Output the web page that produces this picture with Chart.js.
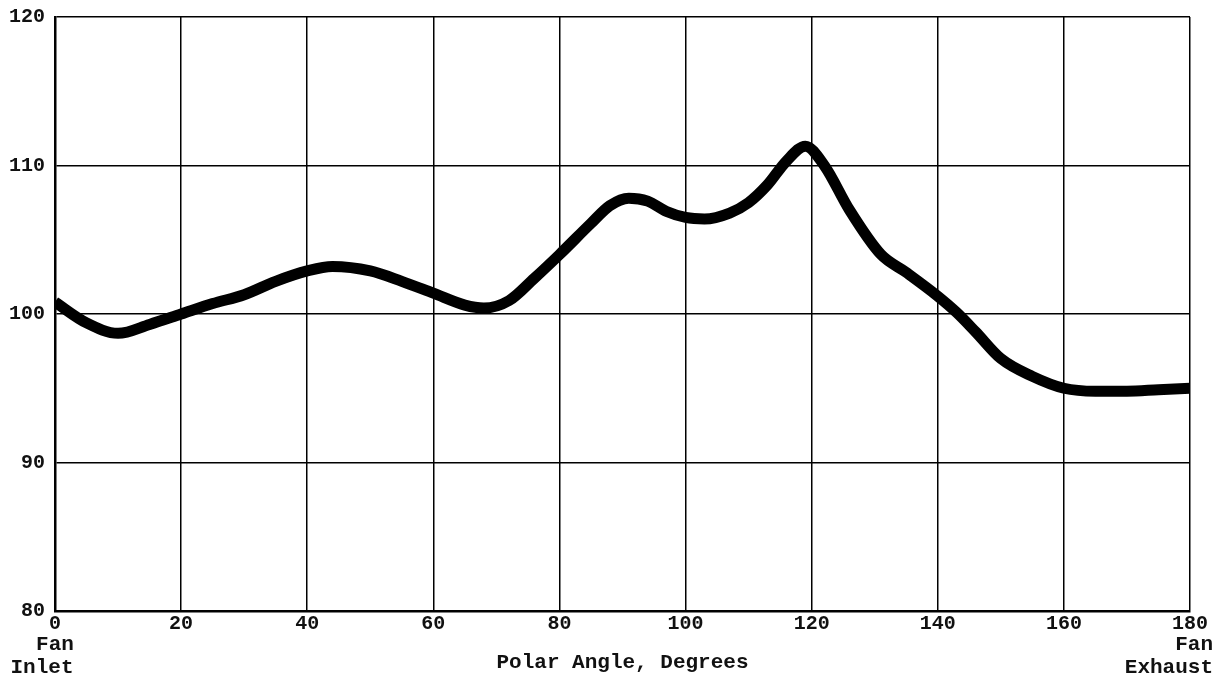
<!DOCTYPE html>
<html>
<head>
<meta charset="utf-8">
<script src="https://cdn.jsdelivr.net/npm/chart.js@4"></script>
<style>
  html, body { margin: 0; padding: 0; background: #fff; }
  #wrap { width: 1224px; height: 690px; }
</style>
</head>
<body>
<div id="wrap"><canvas id="chart" width="1224" height="690"></canvas></div>
<script>
// polar angle (deg) and level
const angles = [0, 5, 10, 15, 20, 25, 30, 35, 40, 44, 50, 55, 60, 65, 68, 72, 76, 80, 85, 88, 91, 94, 97, 100, 103, 107, 110, 113, 116, 119, 122, 126, 131, 135, 140, 143, 146, 150, 155, 160, 165, 170, 175, 180];
const levels = [100.8, 99.4, 98.7, 99.3, 100.0, 100.7, 101.3, 102.2, 102.9, 103.2, 102.9, 102.2, 101.4, 100.6, 100.4, 100.9, 102.4, 104.0, 106.1, 107.3, 107.8, 107.6, 106.9, 106.5, 106.4, 106.8, 107.5, 108.7, 110.3, 111.3, 110.0, 107.0, 104.0, 102.8, 101.2, 100.1, 98.8, 97.0, 95.8, 95.0, 94.8, 94.8, 94.9, 95.0];

const xTicks = [0, 20, 40, 60, 80, 100, 120, 140, 160, 180];
const yTicks = [80, 90, 100, 110, 120];

const FONT = 'Liberation Mono, Courier New, monospace';

const points = angles.map((a, i) => ({ x: a, y: levels[i] }));

// extra labels under the x axis
const axisText = {
  id: 'axisText',
  afterDraw(chart) {
    const c = chart.ctx;
    const xs = chart.scales.x;
    c.save();
    c.fillStyle = '#111';
    c.font = 'bold 21px ' + FONT;
    c.textBaseline = 'middle';
    c.textAlign = 'center';
    c.fillText('Fan', xs.getPixelForValue(0), 645);
    c.fillText('Inlet', xs.getPixelForValue(0) - 13, 668);
    c.fillText('Polar Angle, Degrees', (xs.left + xs.right) / 2, 663);
    c.textAlign = 'right';
    c.fillText('Fan', 1213, 645);
    c.fillText('Exhaust', 1213, 668);
    c.restore();
  }
};

new Chart(document.getElementById('chart').getContext('2d'), {
  type: 'line',
  data: {
    datasets: [{
      data: points,
      borderColor: '#000',
      borderWidth: 11,
      pointRadius: 0,
      cubicInterpolationMode: 'monotone',
      fill: false
    }]
  },
  options: {
    responsive: false,
    animation: false,
    layout: { padding: { top: 17, right: 34, left: 0, bottom: 0 } },
    plugins: { legend: { display: false }, tooltip: { enabled: false } },
    scales: {
      x: {
        type: 'linear',
        min: 0,
        max: 180,
        afterBuildTicks: s => { s.ticks = xTicks.map(v => ({ value: v })); },
        afterFit: s => { s.height = 79; s.paddingLeft = 0; s.paddingRight = 0; },
        grid: { color: '#000', lineWidth: 1.5, drawTicks: false },
        border: { color: '#000', width: 2.5 },
        ticks: {
          padding: 1,
          maxRotation: 0,
          color: '#111',
          font: { family: FONT, size: 20, weight: 'bold' }
        }
      },
      y: {
        min: 80,
        max: 120,
        afterBuildTicks: s => { s.ticks = yTicks.map(v => ({ value: v })); },
        afterFit: s => { s.width = 55; s.paddingTop = 0; s.paddingBottom = 0; },
        grid: { color: '#000', lineWidth: 1.5, drawTicks: false },
        border: { color: '#000', width: 2.5 },
        ticks: {
          padding: 10,
          color: '#111',
          font: { family: FONT, size: 20, weight: 'bold' }
        }
      }
    }
  },
  plugins: [axisText]
});
</script>
</body>
</html>
